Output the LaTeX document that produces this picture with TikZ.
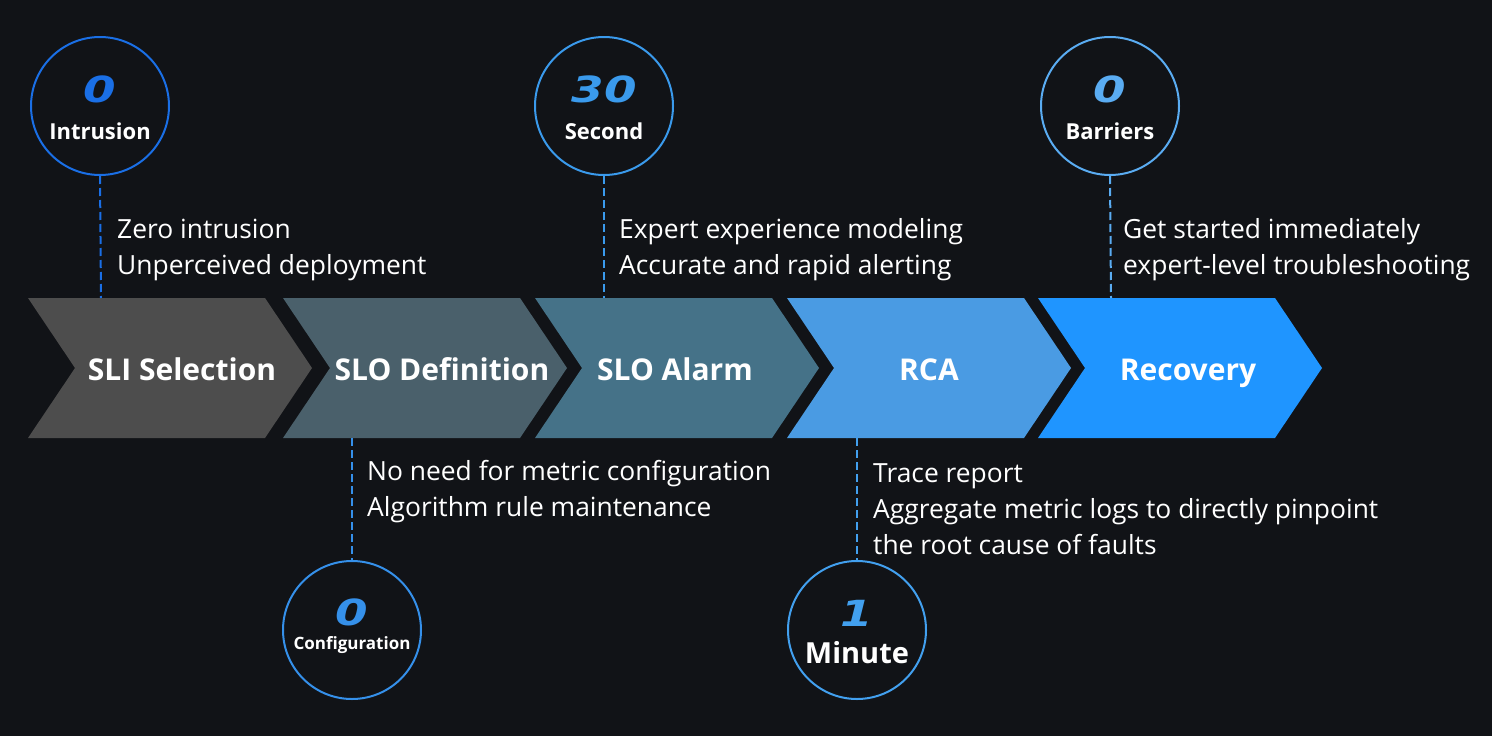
\documentclass[tikz,border=0pt]{standalone}
\usepackage{fontspec}
\usepackage{graphicx}
\setmainfont{Open Sans}
\newfontfamily\digitfont{DejaVu Sans}
\usetikzlibrary{positioning}

\definecolor{bgdark}{HTML}{111317}
\definecolor{stepgray}{HTML}{4D4D4D}
\definecolor{stepslate}{HTML}{4A606B}
\definecolor{stepteal}{HTML}{457288}
\definecolor{stepsky}{HTML}{4A9BE3}
\definecolor{stepblue}{HTML}{1F95FF}
\definecolor{ringA}{HTML}{1A6FE6}
\definecolor{ringB}{HTML}{3590EA}
\definecolor{ringC}{HTML}{3A9AEC}
\definecolor{ringD}{HTML}{42A0EF}
\definecolor{ringE}{HTML}{5AACF2}

\tikzset{
  ring/.style={circle, draw=#1, line width=2pt, minimum size=138pt, inner sep=0pt},
  digit/.style={text=#1, font=\digitfont\bfseries\itshape\fontsize{36}{36}\selectfont, inner sep=0pt},
  ringlabel/.style={text=white, anchor=base, font=\bfseries\fontsize{#1}{#1}\selectfont, inner sep=0pt},
  lead/.style={draw=#1, line width=2pt, dash pattern=on 8pt off 4pt},
  note/.style={anchor=west, align=left, text=white, inner sep=0pt, font=\fontsize{26.4}{36}\selectfont},
  steplabel/.style={text=white, anchor=base, font=\bfseries\fontsize{30}{30}\selectfont, inner sep=0pt},
}

\newcommand{\wide}[1]{\scalebox{1.3}[1]{#1}}

\begin{document}
\begin{tikzpicture}[x=1pt,y=-1pt]
\useasboundingbox (0,0) rectangle (1492,736);
\fill[bgdark] (0,0) rectangle (1492,736);

% process chevrons
\fill[stepgray]  (28,298) -- (265,298) -- (312,368) -- (265,438) -- (28,438) -- (75,368) -- cycle;
\fill[stepslate] (283,298) -- (520,298) -- (567,368) -- (520,438) -- (283,438) -- (330,368) -- cycle;
\fill[stepteal]  (535,298) -- (772,298) -- (819,368) -- (772,438) -- (535,438) -- (582,368) -- cycle;
\fill[stepsky]   (787,298) -- (1024,298) -- (1071,368) -- (1024,438) -- (787,438) -- (834,368) -- cycle;
\fill[stepblue]  (1038,298) -- (1275,298) -- (1322,368) -- (1275,438) -- (1038,438) -- (1085,368) -- cycle;

\node[steplabel] (sli) at (182,380) {SLI Selection};
\node[steplabel] (slo) at (442,380) {SLO Definition};
\node[steplabel] (alarm) at (675,380) {SLO Alarm};
\node[steplabel] (rca) at (929,380) {RCA};
\node[steplabel] (recovery) at (1188,380) {Recovery};

\coordinate (sliTop) at (101,298);
\coordinate (sloBot) at (352,438);
\coordinate (alarmTop) at (604,298);
\coordinate (rcaBot) at (857,438);
\coordinate (recTop) at (1111,298);

% rings
\node[ring=ringA] (intrusion) at (100,106) {};
\node[digit=ringA] (intrusionNum) at ([yshift=17pt]intrusion.center) {\wide{0}};
\node[ringlabel=22] (intrusionTxt) at ([yshift=-33pt]intrusion.center) {Intrusion};

\node[ring=ringB] (config) at (352,630) {};
\node[digit=ringB] (configNum) at ([yshift=18pt]config.center) {\wide{0}};
\node[ringlabel=17] (configTxt) at ([yshift=-19pt]config.center) {Configuration};

\node[ring=ringC] (second) at (604,106) {};
\node[digit=ringC] (secondNum) at ([yshift=17pt]second.center) {\wide{30}};
\node[ringlabel=22] (secondTxt) at ([yshift=-33pt]second.center) {Second};

\node[ring=ringD] (minute) at (857,630) {};
\node[digit=ringD] (minuteNum) at ([yshift=17pt]minute.center) {\wide{1}};
\node[ringlabel=29] (minuteTxt) at ([yshift=-33pt]minute.center) {Minute};

\node[ring=ringE] (barriers) at (1110,106) {};
\node[digit=ringE] (barriersNum) at ([yshift=17pt]barriers.center) {\wide{0}};
\node[ringlabel=22] (barriersTxt) at ([yshift=-33pt]barriers.center) {Barriers};

% leaders
\draw[lead=ringA] (intrusion.south) -- (sliTop);
\draw[lead=ringB] (sloBot) -- (config.north);
\draw[lead=ringC] (second.south) -- (alarmTop);
\draw[lead=ringD] (rcaBot) -- (minute.north);
\draw[lead=ringE] (barriers.south) -- (recTop);

% notes
\node[note] (noteA) at (117,250) {Zero intrusion\\Unperceived deployment};
\node[note] (noteB) at (367,492) {No need for metric configuration\\Algorithm rule maintenance};
\node[note] (noteC) at (619,250) {Expert experience modeling\\Accurate and rapid alerting};
\node[note] (noteD) at (873,509) {Trace report\\Aggregate metric logs to directly pinpoint\\the root cause of faults};
\node[note] (noteE) at (1123,250) {Get started immediately\\expert-level troubleshooting};
\end{tikzpicture}
\end{document}
